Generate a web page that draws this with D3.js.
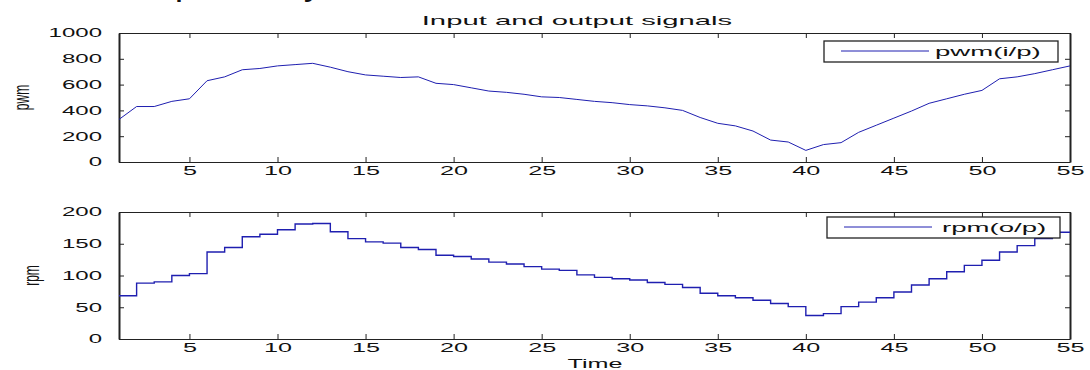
<!DOCTYPE html>
<html>
<head>
<meta charset="utf-8">
<script src="https://cdn.jsdelivr.net/npm/d3@7"></script>
<style>
  body { margin: 0; background: #fff; }
  text { font-family: "Liberation Sans", Arial, sans-serif; fill: #111; }
</style>
</head>
<body>
<div id="chart"></div>
<script>
// sample index (Time axis)
const TIME = [1, 2, 3, 4, 5, 6, 7, 8, 9, 10, 11, 12, 13, 14, 15, 16, 17, 18, 19, 20,
              21, 22, 23, 24, 25, 26, 27, 28, 29, 30, 31, 32, 33, 34, 35, 36, 37, 38, 39, 40,
              41, 42, 43, 44, 45, 46, 47, 48, 49, 50, 51, 52, 53, 54, 55];

// input signal (pwm)
const PWM = [330, 430, 430, 470, 490, 630, 660, 715, 725, 745,
             755, 765, 735, 700, 675, 665, 655, 660, 610, 600,
             575, 550, 540, 525, 505, 500, 485, 470, 460, 445,
             435, 420, 400, 345, 300, 280, 240, 170, 155, 90,
             135, 150, 230, 285, 340, 395, 455, 490, 525, 555,
             645, 660, 685, 715, 745];

// output signal (rpm), drawn as stairs
const RPM = [68, 88, 90, 100, 103, 137, 144, 161, 165, 172,
             181, 182, 169, 158, 153, 151, 144, 141, 132, 130,
             126, 121, 118, 114, 110, 108, 101, 97, 95, 93,
             89, 86, 81, 72, 68, 65, 61, 56, 51, 37,
             40, 51, 58, 65, 74, 85, 95, 106, 116, 124,
             137, 147, 158, 168, 168];

const X_TICKS = [5, 10, 15, 20, 25, 30, 35, 40, 45, 50, 55];
const PWM_TICKS = [0, 200, 400, 600, 800, 1000];
const RPM_TICKS = [0, 50, 100, 150, 200];

const WIDTH = 1090, HEIGHT = 370;
const LEFT = 119, RIGHT = 1070;
const TOP_PANEL = { top: 33, bottom: 162 };
const BOT_PANEL = { top: 212, bottom: 339 };
const LINE_COLOR = "#1f1fb0";
const AXIS_COLOR = "#222";

const svg = d3.select("#chart").append("svg")
              .attr("width", WIDTH)
              .attr("height", HEIGHT);

// squeeze a text back so that scale(sx,1) puts it where it was
// (the picture is stretched sideways, text too)
function stretch(sel, sx)
{
    sel.each(function() {
        const t = d3.select(this);
        const x = +t.attr("x") || 0;
        t.attr("x", x / sx).attr("transform", `scale(${sx},1)`);
    });
}

const x = d3.scaleLinear()
            .domain([1, 55])
            .range([LEFT, RIGHT]);

/**
 * draws one panel: frame, ticks, labels, line and legend
 */
function drawPanel(opt)
{
    const y = d3.scaleLinear()
                .domain(opt.domain)
                .range([opt.panel.bottom, opt.panel.top]);

    const g = svg.append("g");

    // bottom axis with labels
    const xb = g.append("g")
                .attr("transform", `translate(0, ${opt.panel.bottom})`)
                .call(d3.axisBottom(x).tickValues(X_TICKS).tickSizeInner(-5).tickSizeOuter(0).tickPadding(4.5));
    xb.selectAll("text").attr("font-size", "12px");
    stretch(xb.selectAll("text"), 2.1);

    // top axis, ticks only
    g.append("g")
     .attr("transform", `translate(0, ${opt.panel.top})`)
     .call(d3.axisTop(x).tickValues(X_TICKS).tickSizeInner(-5).tickSizeOuter(0).tickFormat(() => ""));

    // left axis with labels
    const yl = g.append("g")
                .attr("class", "side")
                .attr("transform", `translate(${LEFT}, 0)`)
                .call(d3.axisLeft(y).tickValues(opt.ticks).tickFormat(d3.format("d"))
                        .tickSizeInner(-5).tickSizeOuter(0).tickPadding(17));
    yl.selectAll("text").attr("font-size", "12px");
    stretch(yl.selectAll("text"), 2.0);

    // right axis, ticks only
    g.append("g")
     .attr("class", "side")
     .attr("transform", `translate(${RIGHT}, 0)`)
     .call(d3.axisRight(y).tickValues(opt.ticks).tickSizeInner(-5).tickSizeOuter(0).tickFormat(() => ""));

    g.selectAll(".domain, .tick line").attr("stroke", AXIS_COLOR);
    g.selectAll(".domain").attr("stroke-width", 1.2);
    // vertical sides look heavier after the stretch
    g.selectAll(".side .domain").attr("stroke-width", 2);

    // the signal
    const line = d3.line()
                   .x((d, i) => x(TIME[i]))
                   .y(d => y(d))
                   .curve(opt.curve);

    g.append("path")
     .datum(opt.values)
     .attr("fill", "none")
     .attr("stroke", LINE_COLOR)
     .attr("stroke-width", opt.width)
     .attr("d", line);

    // y label, rotated
    g.append("text")
     .attr("transform", `translate(${opt.labelX}, ${(opt.panel.top + opt.panel.bottom) / 2}) scale(1.9,1) rotate(-90)`)
     .attr("text-anchor", "middle")
     .attr("font-size", "12px")
     .text(opt.label);

    // legend
    const lg = g.append("g");
    lg.append("rect")
      .attr("x", opt.legend.x)
      .attr("y", opt.legend.y)
      .attr("width", opt.legend.w)
      .attr("height", 21)
      .attr("fill", "#fff")
      .attr("stroke", AXIS_COLOR)
      .attr("stroke-width", 1.3);
    lg.append("line")
      .attr("x1", opt.legend.x + 17)
      .attr("x2", opt.legend.x + 105)
      .attr("y1", opt.legend.y + 10)
      .attr("y2", opt.legend.y + 10)
      .attr("stroke", LINE_COLOR)
      .attr("stroke-width", 1);
    const lt = lg.append("text")
                 .attr("x", opt.legend.x + opt.legend.tx)
                 .attr("y", opt.legend.y + 15)
                 .attr("font-size", "12px")
                 .text(opt.name);
    stretch(lt, 2.3);
}

drawPanel({
    panel: TOP_PANEL,
    domain: [0, 1000],
    ticks: PWM_TICKS,
    values: PWM,
    curve: d3.curveLinear,
    width: 1,
    label: "pwm",
    labelX: 29,
    name: "pwm(i/p)",
    legend: { x: 824, y: 41, w: 234, tx: 111 }
});

drawPanel({
    panel: BOT_PANEL,
    domain: [0, 200],
    ticks: RPM_TICKS,
    values: RPM,
    curve: d3.curveStepAfter,
    width: 1.4,
    label: "rpm",
    labelX: 39,
    name: "rpm(o/p)",
    legend: { x: 827, y: 217, w: 233, tx: 115 }
});

// titles
const title = svg.append("text")
                 .attr("x", 577)
                 .attr("y", 25)
                 .attr("text-anchor", "middle")
                 .attr("font-size", "13px")
                 .text("Input and output signals");
stretch(title, 2.25);

const xlabel = svg.append("text")
                  .attr("x", 595)
                  .attr("y", 368)
                  .attr("text-anchor", "middle")
                  .attr("font-size", "12px")
                  .text("Time");
stretch(xlabel, 2.1);

// bit of the page text above the figure, only its lowest edge shows
svg.append("text")
   .attr("x", 122)
   .attr("y", -6)
   .attr("font-family", "Liberation Serif, serif")
   .attr("font-size", "38px")
   .text("respectively");
</script>
</body>
</html>
